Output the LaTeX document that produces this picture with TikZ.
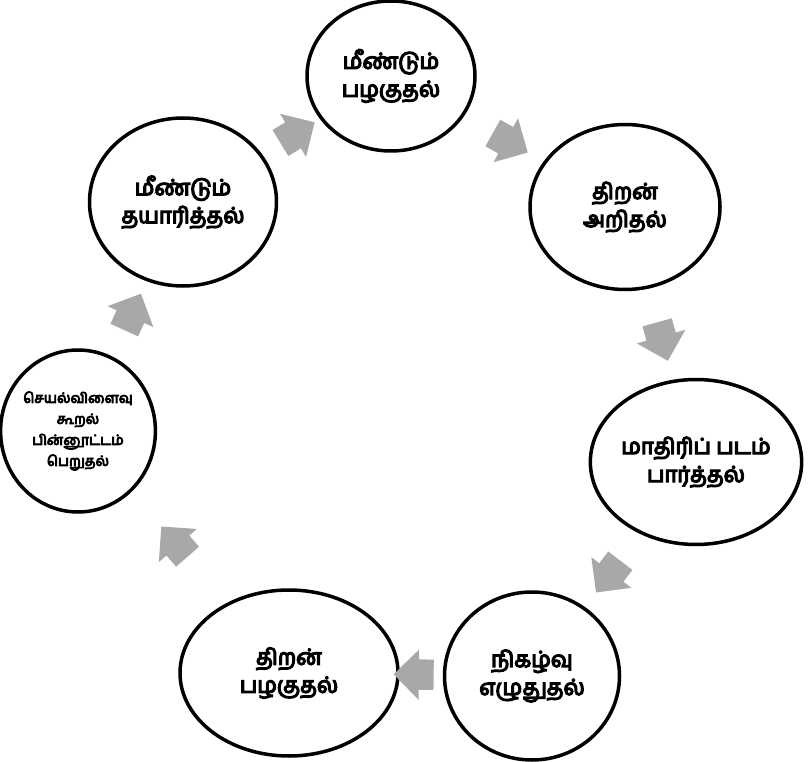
\documentclass[tikz,border=0pt]{standalone}
\usepackage{fontspec}
\newfontfamily\tamilfont[Script=Tamil, FakeBold=6]{Hind Madurai}
\usepackage{tikz}
\usetikzlibrary{positioning, shapes.geometric, shapes.arrows}
\definecolor{ink}{RGB}{0,0,0}
\definecolor{flow}{RGB}{168,168,168}
\tikzset{
  stage/.style     ={ellipse, draw=ink, line width=3.5pt, inner sep=0pt, align=center,
                     font=\tamilfont\fontsize{22}{28}\selectfont},
  smallstage/.style={stage, font=\tamilfont\fontsize{14}{21}\selectfont},
  turn/.style      ={single arrow, fill=flow, draw=none, inner xsep=0pt, inner ysep=15pt,
                     minimum height=40pt,
                     single arrow head extend=10pt, single arrow head indent=0pt},
}

\begin{document}
\begin{tikzpicture}[x=1pt, y=-1pt]
\useasboundingbox (0,0) rectangle (809,762);
\node[stage, minimum width=168pt, minimum height=150pt] (again) at (391,76) {மீண்டும்\\பழகுதல்};
\node[stage, minimum width=190pt, minimum height=165pt] (know) at (625,207) {திறன்\\அறிதல்};
\node[stage, minimum width=182pt, minimum height=165pt] (model) at (696,462) {மாதிரிப் படம்\\பார்த்தல்};
\node[stage, minimum width=175pt, minimum height=168pt] (write) at (532,676) {நிகழ்வு\\எழுதுதல்};
\node[stage, minimum width=218pt, minimum height=166pt] (practice) at (289,673) {திறன்\\பழகுதல்};
\node[smallstage, minimum width=150pt, minimum height=162pt] (feedback) at (78,431) {செயல்விளைவு\\கூறல்\\பின்னூட்டம்\\பெறுதல்};
\node[stage, minimum width=187pt, minimum height=168pt] (prep) at (183,202) {மீண்டும்\\தயாரித்தல்};
% arrows round the cycle
\foreach \a/\b in {prep/again, again/know, know/model, model/write,
                   write/practice, practice/feedback, feedback/prep} {
  \path (\a) -- (\b) node[turn, midway, sloped, allow upside down] {};
}
\end{tikzpicture}
\end{document}
